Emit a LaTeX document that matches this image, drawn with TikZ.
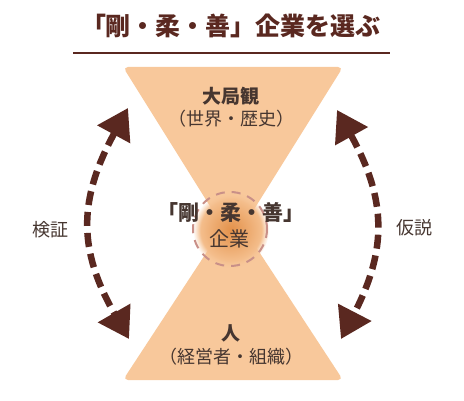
\documentclass[tikz,border=0pt]{standalone}
\usepackage{fontspec}
\setmainfont{Noto Sans CJK JP}
\usetikzlibrary{arrows.meta,fadings}
\definecolor{peach}{HTML}{F8C89B}
\definecolor{glow}{HTML}{E3914A}
\definecolor{darkbrown}{HTML}{5A2820}
\definecolor{txt}{HTML}{463630}
\definecolor{ring}{HTML}{C99088}
\tikzset{
  sand/.style={fill=peach,rounded corners=5pt},
  cyc/.style={draw=darkbrown,line width=6.5pt,dash pattern=on 14pt off 7pt,
    {Triangle[length=30pt,width=36pt]}-{Triangle[length=30pt,width=36pt]}},
  lbl/.style={text=txt,font=\fontsize{18}{20}\selectfont,inner sep=0pt},
  blbl/.style={text=txt,font=\bfseries\fontsize{19}{21}\selectfont,inner sep=0pt},
}
\begin{document}
\begin{tikzpicture}[x=1pt,y=-1pt]
\useasboundingbox (0,0) rectangle (464,401);
\fill[white] (0,0) rectangle (464,401);
% title
\node[text=darkbrown,font=\bfseries\fontsize{25}{27}\selectfont,inner sep=0pt] (title) at (231,26) {「剛・柔・善」企業を選ぶ};
\coordinate (ul1) at (73,53);
\coordinate (ul2) at (390,53);
\draw[darkbrown,line width=2pt] (ul1) -- (ul2);
% hourglass
\fill[sand] (123,67) -- (343,67) -- (233,243) -- cycle;
\fill[sand] (233,212) -- (343,380) -- (123,380) -- cycle;
% glow
\shade[inner color=glow,outer color=peach,path fading=circle with fuzzy edge 20 percent] (231,230) circle (38);
\draw[ring,line width=2pt,dash pattern=on 9pt off 7pt] (230,229) circle (37);
% texts
\node[blbl] (top1) at (231,96) {大局観};
\node[lbl] (top2) at (231,119) {（世界・歴史）};
\node[text=txt,font=\bfseries\fontsize{21}{23}\selectfont,inner sep=0pt] (c1) at (231,212) {「剛・柔・善」};
\node[lbl,font=\fontsize{20}{22}\selectfont] (c2) at (229,239) {企業};
\node[blbl] (bot1) at (231,333) {人};
\node[lbl] (bot2) at (231,357) {（経営者・組織）};
\node[lbl] (l) at (50,230) {検証};
\node[lbl] (r) at (414,228) {仮説};
% arrows
\coordinate (la) at (128,108);
\coordinate (lb) at (129,339);
\coordinate (ra) at (337,110);
\coordinate (rb) at (341,339);
\draw[cyc] (la) .. controls (78,200) and (78,250) .. (lb);
\draw[cyc] (ra) .. controls (387,200) and (387,250) .. (rb);
\end{tikzpicture}
\end{document}
